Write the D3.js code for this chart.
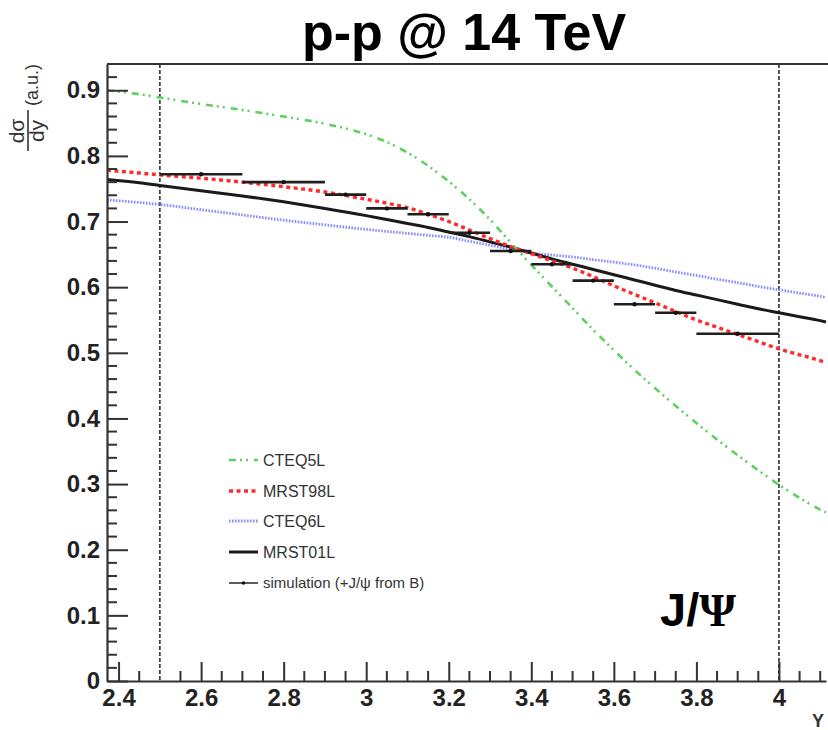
<!DOCTYPE html>
<html>
<head>
<meta charset="utf-8">
<script src="https://cdn.jsdelivr.net/npm/d3@7"></script>
<style>
  html, body { margin: 0; padding: 0; background: #fff; }
  svg { display: block; }
  text { font-family: "Liberation Sans", Arial, Helvetica, sans-serif; }
</style>
</head>
<body>
<svg id="chart" width="828" height="730"></svg>
<script>
// ---- data ---------------------------------------------------------------
// rapidity grid for the theory curves
const yGrid = [2.372, 2.45, 2.5, 2.6, 2.7, 2.8, 2.9, 3.0, 3.05, 3.1, 3.15, 3.2, 3.25, 3.3, 3.35,
               3.4, 3.45, 3.5, 3.55, 3.6, 3.65, 3.7, 3.75, 3.8, 3.85, 3.9, 3.95, 4.0, 4.05, 4.1, 4.114];

const cteq5l  = [0.900, 0.894, 0.889, 0.879, 0.870, 0.860, 0.849, 0.833, 0.821, 0.805, 0.785, 0.761, 0.734, 0.703, 0.668,
                 0.634, 0.601, 0.568, 0.535, 0.504, 0.474, 0.446, 0.419, 0.393, 0.368, 0.344, 0.321, 0.299, 0.279, 0.261, 0.257];
const mrst98l = [0.778, 0.774, 0.771, 0.766, 0.760, 0.753, 0.745, 0.734, 0.728, 0.721, 0.711, 0.700, 0.687, 0.674, 0.662,
                 0.651, 0.640, 0.629, 0.616, 0.602, 0.589, 0.576, 0.563, 0.550, 0.539, 0.528, 0.517, 0.506, 0.497, 0.488, 0.485];
const cteq6l  = [0.733, 0.729, 0.726, 0.718, 0.710, 0.702, 0.695, 0.688, 0.685, 0.682, 0.679, 0.676, 0.670, 0.664, 0.658,
                 0.652, 0.649, 0.646, 0.642, 0.638, 0.634, 0.629, 0.623, 0.618, 0.612, 0.607, 0.601, 0.596, 0.591, 0.586, 0.584];
const mrst01l = [0.764, 0.759, 0.755, 0.747, 0.739, 0.730, 0.720, 0.709, 0.703, 0.697, 0.691, 0.684, 0.677, 0.669, 0.661,
                 0.652, 0.643, 0.635, 0.627, 0.619, 0.611, 0.603, 0.595, 0.588, 0.581, 0.574, 0.567, 0.561, 0.555, 0.549, 0.547];

// simulated J/psi (incl. from B) histogram bins
const simLow    = [2.5, 2.7, 2.9, 3.0, 3.1, 3.2, 3.3, 3.4, 3.5, 3.6, 3.7, 3.8];
const simHigh   = [2.7, 2.9, 3.0, 3.1, 3.2, 3.3, 3.4, 3.5, 3.6, 3.7, 3.8, 4.0];
const simValues = [0.772, 0.760, 0.741, 0.720, 0.711, 0.683, 0.655, 0.635, 0.610, 0.574, 0.561, 0.529];

// acceptance limits
const cutLines = [2.5, 4.0];

// axis ticks
const xTickValues = [2.4, 2.6, 2.8, 3.0, 3.2, 3.4, 3.6, 3.8, 4.0];
const xTickLabels = ["2.4", "2.6", "2.8", "3", "3.2", "3.4", "3.6", "3.8", "4"];
const yTickValues = [0, 0.1, 0.2, 0.3, 0.4, 0.5, 0.6, 0.7, 0.8, 0.9];
const yTickLabels = ["0", "0.1", "0.2", "0.3", "0.4", "0.5", "0.6", "0.7", "0.8", "0.9"];

const legendLabels = ["CTEQ5L", "MRST98L", "CTEQ6L", "MRST01L", "simulation (+J/\u03c8 from B)"];

// ---- layout -------------------------------------------------------------
const svg = d3.select("#chart");
const plotLeft = 107, plotRight = 826, plotTop = 64, plotBottom = 681;

const x = d3.scaleLinear().domain([2.372, 4.114]).range([plotLeft, plotRight]);
const y = d3.scaleLinear().domain([0, 0.94]).range([plotBottom, plotTop]);

const styles = {
  cteq5l:  { color: "#5fd05f", width: 2.6, dash: "7,4,2,4,2,6" },
  mrst98l: { color: "#ff2b2b", width: 3.4, dash: "4,3.5" },
  cteq6l:  { color: "#8a8aff", width: 2.8, dash: "1.6,1.4" },
  mrst01l: { color: "#1a1a1a", width: 3.0, dash: null }
};

// ---- curves -------------------------------------------------------------
const clipId = "plotClip";
svg.append("clipPath").attr("id", clipId)
  .append("rect").attr("x", plotLeft).attr("y", plotTop)
  .attr("width", plotRight - plotLeft + 2).attr("height", plotBottom - plotTop);

const plot = svg.append("g").attr("clip-path", `url(#${clipId})`);

const line = d3.line().curve(d3.curveMonotoneX).x(d => x(d[0])).y(d => y(d[1]));

function drawCurve(values, st) {
  plot.append("path")
    .datum(yGrid.map((g, i) => [g, values[i]]))
    .attr("d", line)
    .attr("fill", "none")
    .attr("stroke", st.color)
    .attr("stroke-width", st.width)
    .attr("stroke-dasharray", st.dash)
    .attr("stroke-linecap", "butt");
}

// acceptance lines
plot.selectAll("line.cut").data(cutLines).join("line")
  .attr("class", "cut")
  .attr("x1", d => x(d)).attr("x2", d => x(d))
  .attr("y1", plotTop).attr("y2", plotBottom)
  .attr("stroke", "#444").attr("stroke-width", 1.8).attr("stroke-dasharray", "4,2");

drawCurve(cteq6l, styles.cteq6l);
drawCurve(mrst01l, styles.mrst01l);
drawCurve(cteq5l, styles.cteq5l);
drawCurve(mrst98l, styles.mrst98l);

// simulation histogram: horizontal bin bars with a marker at bin centre
const sim = simValues.map((v, i) => ({ lo: simLow[i], hi: simHigh[i], v }));
plot.selectAll("line.sim").data(sim).join("line")
  .attr("class", "sim")
  .attr("x1", d => x(d.lo)).attr("x2", d => x(d.hi))
  .attr("y1", d => y(d.v)).attr("y2", d => y(d.v))
  .attr("stroke", "#1f1f1f").attr("stroke-width", 2.6);
plot.selectAll("circle.sim").data(sim).join("circle")
  .attr("class", "sim")
  .attr("cx", d => x((d.lo + d.hi) / 2)).attr("cy", d => y(d.v))
  .attr("r", 2.2).attr("fill", "#111");

// ---- axes ---------------------------------------------------------------
const axisColor = "#333";

const yAxis = d3.axisLeft(y)
  .tickValues(yTickValues)
  .tickFormat((d, i) => yTickLabels[i])
  .tickSizeInner(-21).tickSizeOuter(0).tickPadding(7);
const gy = svg.append("g").attr("transform", `translate(${plotLeft},0)`).call(yAxis);

const xAxis = d3.axisBottom(x)
  .tickValues(xTickValues)
  .tickFormat((d, i) => xTickLabels[i])
  .tickSizeInner(-19).tickSizeOuter(0).tickPadding(8);
const gx = svg.append("g").attr("transform", `translate(0,${plotBottom})`).call(xAxis);

// minor ticks
const yMinor = d3.range(0, 47).map(i => +(i * 0.02).toFixed(2)).filter(v => Math.round(v * 100) % 10 !== 0);
const xMinor = d3.range(0, 35).map(i => +(2.4 + i * 0.05).toFixed(2))
  .filter(v => Math.round(v * 100) % 20 !== 0 && v <= 4.114 && !cutLines.includes(v));

const minor = svg.append("g").attr("stroke", axisColor).attr("stroke-width", 2);
minor.selectAll("line.ym").data(yMinor).join("line").attr("class", "ym")
  .attr("x1", plotLeft).attr("x2", plotLeft + 10)
  .attr("y1", d => y(d)).attr("y2", d => y(d));
minor.selectAll("line.xm").data(xMinor).join("line").attr("class", "xm")
  .attr("x1", d => x(d)).attr("x2", d => x(d))
  .attr("y1", plotBottom).attr("y2", plotBottom - 10);

[gx, gy].forEach(g => {
  g.select(".domain").attr("stroke", axisColor).attr("stroke-width", 2.2);
  g.selectAll(".tick line").attr("stroke", axisColor).attr("stroke-width", 2);
  g.selectAll(".tick text")
    .attr("fill", "#222")
    .style("font-family", "'Liberation Sans', Arial, sans-serif")
    .style("font-weight", "bold")
    .style("font-size", "24px");
});

// top frame edge
svg.append("line")
  .attr("x1", plotLeft).attr("x2", 828).attr("y1", plotTop).attr("y2", plotTop)
  .attr("stroke", axisColor).attr("stroke-width", 2);

// ---- titles -------------------------------------------------------------
svg.append("text")
  .attr("x", 464).attr("y", 50)
  .attr("text-anchor", "middle")
  .style("font-weight", "bold").style("font-size", "52px")
  .attr("fill", "#000")
  .text("p-p @ 14 TeV");

const jpsi = svg.append("text").attr("x", 660).attr("y", 626)
  .style("font-size", "47px").style("font-weight", "bold").attr("fill", "#000");
jpsi.append("tspan").text("J/");
jpsi.append("tspan").style("font-family", "'Liberation Serif', 'Times New Roman', serif").text("\u03a8");

svg.append("text")
  .attr("x", 818).attr("y", 727).attr("text-anchor", "middle")
  .style("font-size", "18px").style("font-weight", "bold").attr("fill", "#333")
  .text("Y");

// y-axis title: d\sigma/dy (a.u.) written as a fraction, rotated
const yt = svg.append("g").attr("transform", "translate(0,153) rotate(-90)");
yt.append("text").attr("x", 22).attr("y", 24).attr("text-anchor", "middle")
  .style("font-size", "21px").attr("fill", "#333").text("d\u03c3");
yt.append("line").attr("x1", 2).attr("x2", 43).attr("y1", 28).attr("y2", 28)
  .attr("stroke", "#333").attr("stroke-width", 1.6);
yt.append("text").attr("x", 22).attr("y", 44).attr("text-anchor", "middle")
  .style("font-size", "21px").attr("fill", "#333").text("dy");
yt.append("text").attr("x", 47).attr("y", 38)
  .style("font-size", "18px").attr("fill", "#333").text("(a.u.)");

// ---- legend -------------------------------------------------------------
const legendStyles = [styles.cteq5l, styles.mrst98l, styles.cteq6l, styles.mrst01l, null];
const legendY = [460, 491, 521, 552, 583];
const lg = svg.append("g");
legendLabels.forEach((lab, i) => {
  const st = legendStyles[i];
  const yy = legendY[i];
  if (st) {
    lg.append("line").attr("x1", 229).attr("x2", 258).attr("y1", yy).attr("y2", yy)
      .attr("stroke", st.color).attr("stroke-width", st.width).attr("stroke-dasharray", st.dash);
  } else {
    lg.append("line").attr("x1", 229).attr("x2", 258).attr("y1", yy).attr("y2", yy)
      .attr("stroke", "#333").attr("stroke-width", 1.6);
    lg.append("circle").attr("cx", 243.5).attr("cy", yy).attr("r", 1.8).attr("fill", "#111");
  }
  lg.append("text").attr("x", 263).attr("y", yy).attr("dy", "0.36em")
    .style("font-size", lab.startsWith("sim") ? "15px" : "16px").attr("fill", "#333").text(lab);
});
</script>
</body>
</html>
